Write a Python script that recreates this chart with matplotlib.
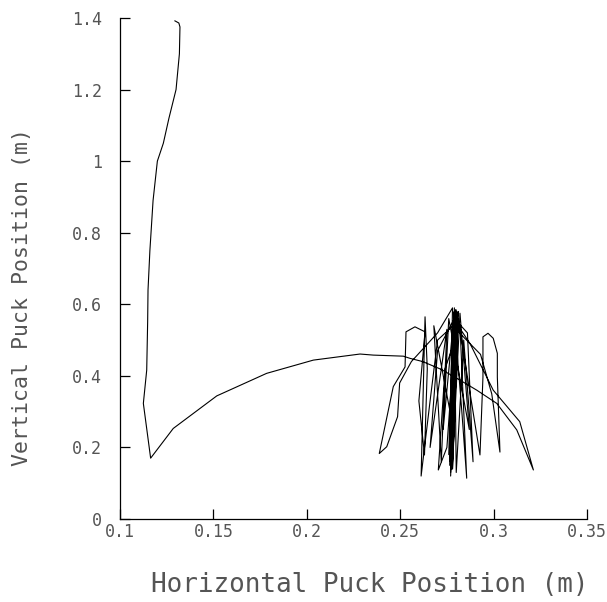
import matplotlib
matplotlib.use("Agg")
import matplotlib.pyplot as plt

# Fall from the top, bounce, and arc to the right
fall_x = [0.1294, 0.1315, 0.1321, 0.1318, 0.1300, 0.1262, 0.1232, 0.1200, 0.1177,
          0.1160, 0.1150, 0.1148, 0.1143, 0.1125, 0.1164, 0.1285, 0.1518, 0.1785,
          0.2035, 0.2285, 0.2356, 0.2517, 0.2552, 0.2620, 0.2720, 0.2820, 0.2910,
          0.3017, 0.3124, 0.3213]
fall_y = [1.392, 1.386, 1.375, 1.300, 1.200, 1.120, 1.050, 1.000, 0.890,
          0.750, 0.640, 0.550, 0.416, 0.323, 0.170, 0.253, 0.344, 0.407,
          0.444, 0.461, 0.458, 0.455, 0.449, 0.440, 0.418, 0.388, 0.360,
          0.323, 0.249, 0.137]

# Oscillation cluster around x ~ 0.28
clus_x = [0.3140, 0.2998, 0.2874, 0.2800, 0.2700, 0.2660, 0.2612, 0.2633, 0.2645,
          0.2630, 0.2600, 0.2633, 0.2579, 0.2531, 0.2526, 0.2463, 0.2388, 0.2428,
          0.2486, 0.2497, 0.2560, 0.2700, 0.2780, 0.2765, 0.2790, 0.2770, 0.2800,
          0.2750, 0.2704, 0.2740, 0.2820, 0.2856, 0.2830, 0.2790, 0.2775, 0.2805,
          0.2780, 0.2810, 0.2927, 0.2943, 0.2943, 0.2970, 0.2998, 0.3020, 0.3020,
          0.3034, 0.2990, 0.2930, 0.2780, 0.2760, 0.2795, 0.2775, 0.2810, 0.2785,
          0.2790, 0.2770, 0.2800, 0.2780, 0.2790, 0.2768, 0.2798, 0.2772, 0.2802,
          0.2785, 0.2680, 0.2720, 0.2750, 0.2660, 0.2700, 0.2790, 0.2860, 0.2890,
          0.2840, 0.2800, 0.2790, 0.2730, 0.2760, 0.2870, 0.2820, 0.2778, 0.2795,
          0.2768, 0.2800, 0.2775, 0.2790, 0.2780]
clus_y = [0.272, 0.360, 0.490, 0.548, 0.500, 0.330, 0.120, 0.565, 0.420,
          0.179, 0.330, 0.523, 0.537, 0.523, 0.425, 0.370, 0.183, 0.202,
          0.286, 0.380, 0.440, 0.520, 0.590, 0.150, 0.580, 0.130, 0.570,
          0.200, 0.137, 0.420, 0.540, 0.114, 0.300, 0.560, 0.160, 0.575,
          0.140, 0.560, 0.179, 0.397, 0.509, 0.519, 0.505, 0.463, 0.397,
          0.187, 0.350, 0.460, 0.540, 0.180, 0.570, 0.140, 0.580, 0.200,
          0.590, 0.120, 0.560, 0.300, 0.575, 0.170, 0.585, 0.150, 0.565,
          0.250, 0.540, 0.160, 0.530, 0.200, 0.470, 0.560, 0.520, 0.160,
          0.500, 0.130, 0.580, 0.250, 0.560, 0.250, 0.575, 0.140, 0.570,
          0.160, 0.580, 0.180, 0.560, 0.300]

x_ticks = [0.1, 0.15, 0.2, 0.25, 0.3, 0.35]
x_ticklabels = ["0.1", "0.15", "0.2", "0.25", "0.3", "0.35"]
y_ticks = [0, 0.2, 0.4, 0.6, 0.8, 1.0, 1.2, 1.4]
y_ticklabels = ["0", "0.2", "0.4", "0.6", "0.8", "1", "1.2", "1.4"]

plt.rcParams['font.family'] = ['DejaVu Sans Mono']

fig = plt.figure(figsize=(6.07, 6.02), dpi=100)
ax = fig.add_axes([120/607, 83/602, 467/607, 501/602])

ax.plot(fall_x + clus_x, fall_y + clus_y, color='black', lw=0.8)

ax.set_xlim(0.1, 0.35)
ax.set_ylim(0, 1.4)
ax.set_xticks(x_ticks)
ax.set_xticklabels(x_ticklabels)
ax.set_yticks(y_ticks)
ax.set_yticklabels(y_ticklabels)

for s in ['top', 'right']:
    ax.spines[s].set_visible(False)
for s in ['left', 'bottom']:
    ax.spines[s].set_linewidth(0.9)

ax.tick_params(axis='both', direction='in', length=7, width=0.9, labelsize=12,
               colors='black')
ax.tick_params(axis='x', pad=3)
ax.tick_params(axis='y', pad=13)
for lab in ax.get_xticklabels() + ax.get_yticklabels():
    lab.set_color('#555555')

fig.text(370/607, 1 - 585/602, "Horizontal Puck Position (m)", ha='center',
         va='center', fontsize=18.7, color='#555555')
fig.text(22/607, 1 - 297/602, "Vertical Puck Position (m)", ha='center',
         va='center', rotation=90, fontsize=15.5, color='#555555')

fig.savefig("out.png", dpi=100)
